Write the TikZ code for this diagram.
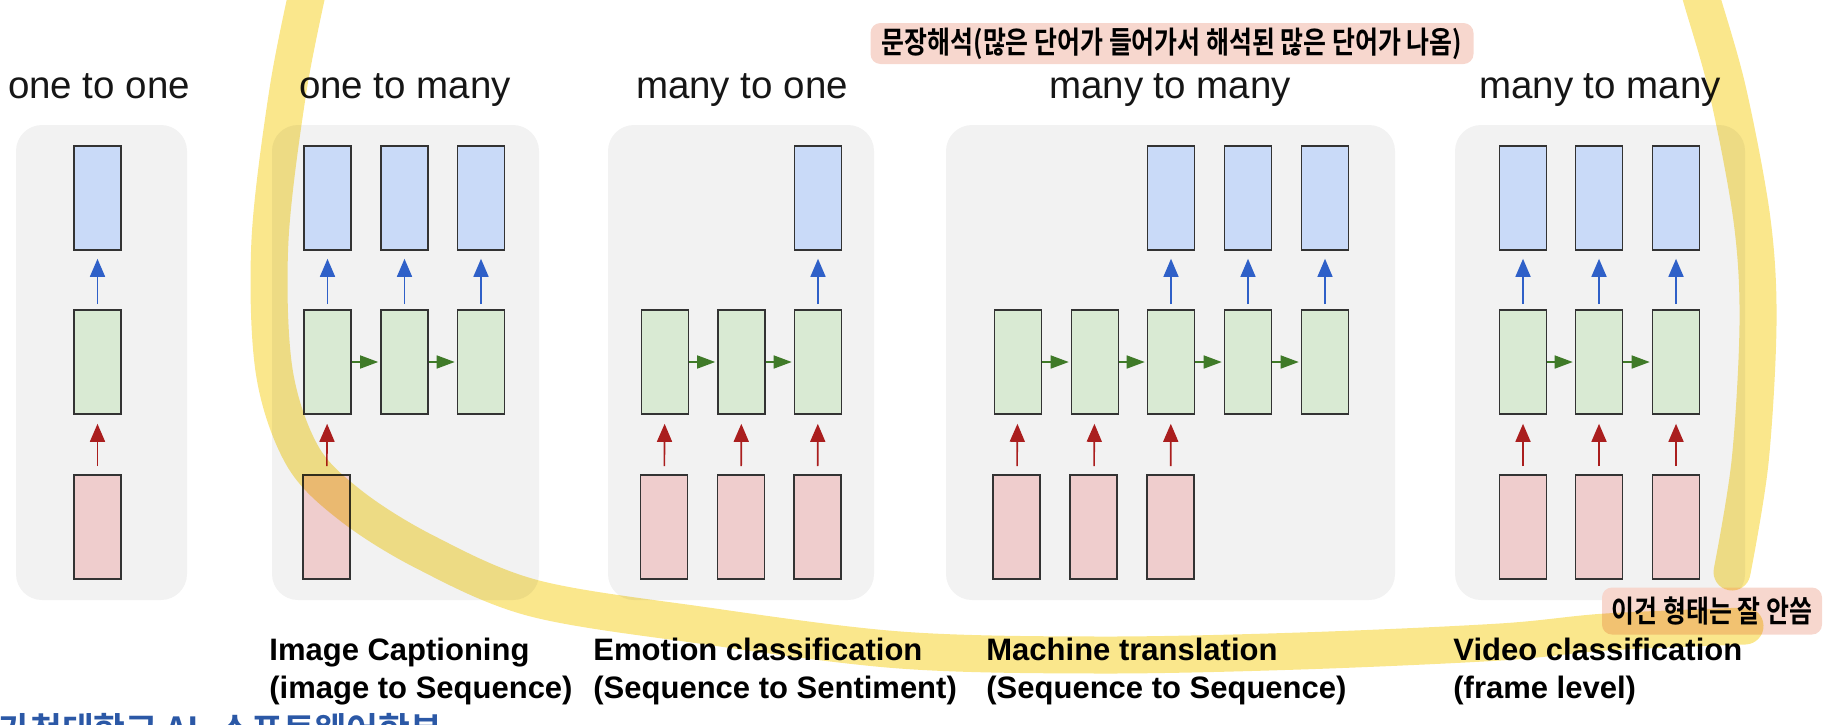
\documentclass[tikz,border=0pt]{standalone}
\usepackage{fontspec}
\setmainfont{Liberation Sans}
\newfontfamily\kofont[FakeStretch=0.82,BoldFont={Noto Sans CJK KR Bold}]{Noto Sans CJK KR}
\newfontfamily\kofoot[BoldFont={Noto Sans CJK KR Bold}]{Noto Sans CJK KR}
\usetikzlibrary{arrows.meta}
\definecolor{Ink}{HTML}{161616}
\definecolor{Panel}{HTML}{F2F2F2}
\definecolor{RectLine}{HTML}{333333}
\definecolor{OutBlue}{HTML}{C9DAF8}
\definecolor{HidGreen}{HTML}{D9EAD3}
\definecolor{InRed}{HTML}{EFCDCD}
\definecolor{ArrowBlue}{HTML}{2F60C8}
\definecolor{ArrowGreen}{HTML}{3F7A28}
\definecolor{ArrowRed}{HTML}{AA1E1E}
\definecolor{Note}{HTML}{F7D7CE}
\definecolor{Marker}{HTML}{FAE78C}
\definecolor{School}{HTML}{2B58A6}

\begin{document}
\begin{tikzpicture}[x=0.5pt,y=-0.5pt,
  cell/.style={draw=RectLine,line width=0.8pt,minimum width=23.5pt,minimum height=52pt,inner sep=0pt},
  outcell/.style={cell,fill=OutBlue},
  hidcell/.style={cell,fill=HidGreen},
  incell/.style={cell,fill=InRed},
  toout/.style={-{Triangle[length=9pt,width=7.5pt]},ArrowBlue,line width=0.8pt,shorten <=2.5pt,shorten >=4pt},
  fromin/.style={-{Triangle[length=9pt,width=7.5pt]},ArrowRed,line width=0.8pt,shorten <=4pt,shorten >=4.5pt},
  carry/.style={-{Triangle[length=9pt,width=6.5pt]},ArrowGreen,line width=0.8pt,shorten >=1pt},
  title/.style={anchor=base,inner sep=0pt,text=Ink,font=\fontsize{19.25}{23}\selectfont},
  caption/.style={anchor=base west,inner sep=0pt,text=black,font=\fontsize{15.5}{19}\selectfont\bfseries},
  note/.style={fill=Note,rounded corners=5pt,inner sep=0pt,text=black,font=\kofont\bfseries\fontsize{15.2}{17}\selectfont}]
\useasboundingbox (0,0) rectangle (1834,724);
\clip (0,0) rectangle (1834,724);
% panels
\fill[Panel,rounded corners=13pt] (16,125) rectangle (187,600);
\fill[Panel,rounded corners=13pt] (272,125) rectangle (539,600);
\fill[Panel,rounded corners=13pt] (608,125) rectangle (874,600);
\fill[Panel,rounded corners=13pt] (946,125) rectangle (1395,600);
\fill[Panel,rounded corners=13pt] (1455,125) rectangle (1745,600);
% titles
\node[title] (t1) at (99,98) {one to one};
\node[title] (t2) at (405,98) {one to many};
\node[title] (t3) at (742,98) {many to one};
\node[title] (t4) at (1170,98) {many to many};
\node[title] (t5) at (1600,98) {many to many};
% notes
\node[note,minimum width=301.5pt,minimum height=20.5pt] (n1) at (1172,43.5) {문장해석(많은 단어가 들어가서 해석된 많은 단어가 나옴)};
\node[note,minimum width=110pt,minimum height=23.5pt] (n2) at (1712,611) {이건 형태는 잘 안씀};
% one to one
\node[outcell] (o11) at (97.5,198) {};
\node[hidcell] (h11) at (97.5,362) {};
\node[incell] (i11) at (97.5,527) {};
\draw[toout] (h11) -- (o11);
\draw[fromin] (i11) -- (h11);
% one to many
\node[outcell] (o21) at (327.5,198) {};
\node[outcell] (o22) at (404.5,198) {};
\node[outcell] (o23) at (481,198) {};
\node[hidcell] (h21) at (327.5,362) {};
\node[hidcell] (h22) at (404.5,362) {};
\node[hidcell] (h23) at (481,362) {};
\node[incell] (i21) at (326.5,527) {};
\draw[toout] (h21) -- (o21);
\draw[toout] (h22) -- (o22);
\draw[toout] (h23) -- (o23);
\draw[carry] (h21) -- (h22);
\draw[carry] (h22) -- (h23);
\draw[fromin] (i21) -- (h21);
% many to one
\node[outcell] (o33) at (818,198) {};
\node[hidcell] (h31) at (665,362) {};
\node[hidcell] (h32) at (741.5,362) {};
\node[hidcell] (h33) at (818,362) {};
\node[incell] (i31) at (664,527) {};
\node[incell] (i32) at (741,527) {};
\node[incell] (i33) at (817.5,527) {};
\draw[toout] (h33) -- (o33);
\draw[carry] (h31) -- (h32);
\draw[carry] (h32) -- (h33);
\draw[fromin] (i31) -- (h31);
\draw[fromin] (i32) -- (h32);
\draw[fromin] (i33) -- (h33);
% many to many, delayed
\node[outcell] (o43) at (1171,198) {};
\node[outcell] (o44) at (1248,198) {};
\node[outcell] (o45) at (1325,198) {};
\node[hidcell] (h41) at (1018,362) {};
\node[hidcell] (h42) at (1095,362) {};
\node[hidcell] (h43) at (1171,362) {};
\node[hidcell] (h44) at (1248,362) {};
\node[hidcell] (h45) at (1325,362) {};
\node[incell] (i41) at (1016.5,527) {};
\node[incell] (i42) at (1093.5,527) {};
\node[incell] (i43) at (1170.5,527) {};
\draw[toout,line width=0.6pt] (h43) -- (o43);
\draw[toout,line width=0.6pt] (h44) -- (o44);
\draw[toout,line width=0.6pt] (h45) -- (o45);
\draw[carry] (h41) -- (h42);
\draw[carry] (h42) -- (h43);
\draw[carry] (h43) -- (h44);
\draw[carry] (h44) -- (h45);
\draw[fromin] (i41) -- (h41);
\draw[fromin] (i42) -- (h42);
\draw[fromin] (i43) -- (h43);
% many to many, synced
\node[outcell] (o51) at (1523,198) {};
\node[outcell] (o52) at (1599,198) {};
\node[outcell] (o53) at (1676,198) {};
\node[hidcell] (h51) at (1523,362) {};
\node[hidcell] (h52) at (1599,362) {};
\node[hidcell] (h53) at (1676,362) {};
\node[incell] (i51) at (1523,527) {};
\node[incell] (i52) at (1599,527) {};
\node[incell] (i53) at (1676,527) {};
\draw[toout] (h51) -- (o51);
\draw[toout] (h52) -- (o52);
\draw[toout] (h53) -- (o53);
\draw[carry] (h51) -- (h52);
\draw[carry] (h52) -- (h53);
\draw[fromin] (i51) -- (h51);
\draw[fromin] (i52) -- (h52);
\draw[fromin] (i53) -- (h53);
% captions
\node[caption] (c2a) at (269,660) {Image Captioning};
\node[caption] (c2b) at (269,698) {(image to Sequence)};
\node[caption] (c3a) at (593,660) {Emotion classification};
\node[caption] (c3b) at (593,698) {(Sequence to Sentiment)};
\node[caption] (c4a) at (986,660) {Machine translation};
\node[caption] (c4b) at (986,698) {(Sequence to Sequence)};
\node[caption] (c5a) at (1453,660) {Video classification};
\node[caption] (c5b) at (1453,698) {(frame level)};
\node[anchor=base west,inner sep=0pt,text=School,font=\kofoot\bfseries\fontsize{17.3}{19}\selectfont] (foot) at (-2,742) {가천대학교 AI·소프트웨어학부};
% marker strokes
\begin{scope}[blend mode=multiply]
\draw[Marker,line width=18.5pt,line cap=round] plot[smooth,tension=0.55] coordinates {(310,-20) (288,90) (270,240) (274,370) (302,455) (350,505) (425,552) (533,598) (700,625) (900,650) (1100,655) (1300,651) (1500,642) (1606,632) (1745,626)};
\draw[Marker,line width=18.5pt,line cap=round] plot[smooth,tension=0.55] coordinates {(1696,-20) (1702,0) (1728,92) (1752,220) (1758,323) (1750,462) (1732,572)};
\end{scope}
\end{tikzpicture}
\end{document}
